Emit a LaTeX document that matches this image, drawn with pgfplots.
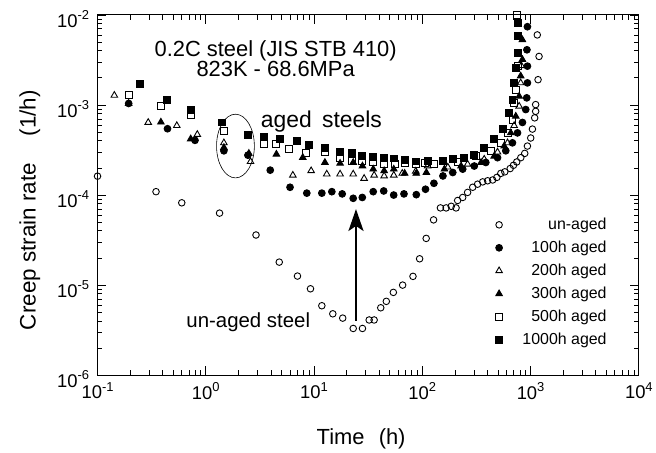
\documentclass[border=0pt]{standalone}
\usepackage{fontspec}
\setmainfont{Liberation Sans}
\usepackage{pgfplots}
\pgfplotsset{compat=1.18}
\usetikzlibrary{arrows.meta}

% 10 with a raised exponent, in the text font
\newcommand{\tp}[1]{10\raisebox{0.4em}{\fontsize{13}{13}\selectfont #1}}

\begin{document}
\begin{tikzpicture}
\begin{axis}[
    scale only axis,
    width=544pt, height=362pt,
    xmode=log, ymode=log,
    xmin=0.1, xmax=1e4, ymin=1e-6, ymax=1e-2,
    axis line style={line width=1.1pt},
    every tick/.style={black, line width=0.8pt},
    major tick length=9pt, minor tick length=5pt,
    tick align=inside,
    xticklabel={\pgfmathtruncatemacro\ex{round(\tick/2.302585093)}\tp{\ex}},
    yticklabel={\pgfmathtruncatemacro\ex{round(\tick/2.302585093)}\tp{\ex}},
    tick label style={font=\fontsize{18.5}{18.5}\selectfont},
    xticklabel style={yshift=-4pt},
    yticklabel style={xshift=-5pt, yshift=-4pt},
    xlabel={Time\hspace{0.65em}(h)},
    ylabel={Creep strain rate\hspace{1.2em}(1/h)},
    xlabel style={font=\fontsize{22}{22}\selectfont, at={(axis description cs:0.487,-0.177)}, anchor=center},
    ylabel style={font=\fontsize{22.5}{22.5}\selectfont, at={(axis description cs:-0.125,0.458)}, anchor=center},
    legend cell align=right,
    legend style={draw=none, fill=none, at={(rel axis cs:0.95,0.447)}, anchor=north east,
        font=\fontsize{16}{18}\selectfont, row sep=6pt,
        /tikz/every odd column/.append style={column sep=18pt}},
    every axis plot/.append style={only marks, black, mark options={line width=0.9pt}},
]
% un-aged
\addplot[mark=o, mark size=3.3pt] coordinates {
(0.1,1.62e-4) (0.347,1.09e-4) (0.6,8.2e-5) (1.34,6.3e-5) (2.91,3.6e-5) (4.77,1.8e-5)
(7.03,1.26e-5) (9.27,9.1e-6) (11.8,5.9e-6) (14.9,4.8e-6) (18.4,4.3e-6) (23.0,3.3e-6)
(28.0,3.3e-6) (32.3,4.1e-6) (35.9,4.1e-6) (41.3,5.6e-6) (46.5,6.6e-6) (54.0,8.3e-6)
(65.8,1.0e-5) (82,1.25e-5) (94.4,1.96e-5) (108.6,3.3e-5) (127,5.3e-5) (147,7.2e-5)
(166,7.2e-5) (185,7.5e-5) (205,7.2e-5) (212,8.7e-5) (236,9.4e-5) (262,1.07e-4)
(292,1.22e-4) (324,1.32e-4) (361,1.40e-4) (401,1.44e-4) (446,1.47e-4) (488,1.57e-4)
(531,1.74e-4) (578,1.81e-4) (648,1.97e-4) (695,2.14e-4) (745,2.33e-4) (812,2.6e-4)
(883,2.9e-4) (935,3.5e-4) (1003,4.3e-4) (1040,5.4e-4) (1091,7.2e-4) (1114,8.5e-4)
(1114,1.01e-3) (1172,1.91e-3) (1197,3.46e-3) (1153,6.0e-3)
};
\addlegendentry{un-aged}
% 100h aged
\addplot[mark=*, mark size=3.4pt] coordinates {
(0.194,1.04e-3) (0.443,5.45e-4) (0.795,4.05e-4) (1.47,3.1e-4) (2.45,2.77e-4) (3.94,1.89e-4)
(6.0,1.22e-4) (8.57,1.05e-4) (11.8,1.05e-4) (14.6,1.09e-4) (18.2,1.03e-4) (23,9.2e-5)
(27.9,9.4e-5) (35.2,1.09e-4) (44,1.11e-4) (54.4,1.0e-4) (67.7,1.03e-4) (88,1.01e-4)
(107,1.16e-4) (128,1.35e-4) (155,1.63e-4) (191,1.78e-4) (236,1.94e-4) (302,2.1e-4)
(386,2.3e-4) (495,2.6e-4) (590,3.1e-4) (680,3.8e-4) (757,4.9e-4) (841,6.4e-4)
(902,8.9e-4) (921,1.2e-3) (935,1.76e-3) (935,2.7e-3) (925,4.1e-3) (935,7.4e-3)
};
\addlegendentry{100h aged}
% 200h aged
\addplot[mark=triangle, mark size=3.8pt] coordinates {
(0.143,1.28e-3) (0.294,6.4e-4) (0.54,5.9e-4) (0.835,4.7e-4) (1.47,3.8e-4) (2.59,2.35e-4)
(6.37,1.66e-4) (9.4,1.86e-4) (13.1,1.71e-4) (17.4,1.71e-4) (23,1.71e-4) (29.0,1.53e-4)
(35.9,1.66e-4) (44.4,1.63e-4) (54.5,1.66e-4) (65.3,1.74e-4) (87,1.84e-4) (112,2.1e-4)
(172,2.04e-4) (262,2.2e-4) (373,2.5e-4) (495,3.0e-4) (612,3.8e-4) (705,5.9e-4)
(784,9.7e-4) (810,1.76e-3) (822,2.73e-3)
};
\addlegendentry{200h aged}
% 300h aged
\addplot[mark=triangle*, mark size=3.8pt] coordinates {
(0.194,1.04e-3) (0.385,6.45e-4) (0.726,4.2e-4) (1.47,3.37e-4) (2.5,2.9e-4) (4.49,2.84e-4)
(7.87,2.61e-4) (12.6,2.3e-4) (17.4,2.25e-4) (23,2.3e-4) (28,2.1e-4) (35.2,1.94e-4)
(44.4,1.86e-4) (54.5,1.94e-4) (68.7,1.74e-4) (87.9,1.74e-4) (109,1.78e-4) (160,1.94e-4)
(228,2.1e-4) (349,2.3e-4) (461,2.7e-4) (570,3.5e-4) (656,4.9e-4) (730,7.5e-4)
(784,1.25e-3) (810,2.1e-3) (840,3.2e-3) (840,5.3e-3)
};
\addlegendentry{300h aged}
% 500h aged
\addplot[mark=square, mark size=3.5pt] coordinates {
(0.194,1.28e-3) (0.385,9.7e-4) (0.726,7.7e-4) (1.47,5.1e-4) (3.43,3.66e-4) (4.49,3.66e-4)
(5.9,3.28e-4) (8.4,2.96e-4) (12.5,3.01e-4) (17.4,2.61e-4) (22.5,2.39e-4) (27.9,2.36e-4)
(35.2,2.33e-4) (44.4,2.24e-4) (55.6,2.2e-4) (68.7,2.3e-4) (87.9,2.24e-4) (105,2.3e-4)
(129,2.2e-4) (212,2.32e-4) (313,2.7e-4) (429,3.1e-4) (531,3.8e-4) (612,4.9e-4)
(680,6.9e-4) (705,1.05e-3) (730,1.48e-3) (757,2.7e-3) (742,1.0e-2)
};
\addlegendentry{500h aged}
% 1000h aged
\addplot[mark=square*, mark size=3.5pt] coordinates {
(0.247,1.71e-3) (0.434,1.15e-3) (0.726,8.9e-4) (1.42,6.4e-4) (2.44,4.7e-4) (3.43,4.46e-4)
(4.88,4.24e-4) (6.93,3.98e-4) (9.0,3.56e-4) (12.5,3.36e-4) (17.4,3.01e-4) (22.5,2.91e-4)
(27.9,2.72e-4) (35.2,2.68e-4) (44.4,2.61e-4) (54.5,2.55e-4) (68.7,2.46e-4) (87.9,2.36e-4)
(112,2.37e-4) (155,2.4e-4) (191,2.5e-4) (244,2.6e-4) (302,2.8e-4) (373,3.35e-4)
(461,4.2e-4) (551,5.4e-4) (633,8.2e-4) (680,1.15e-3) (705,1.76e-3) (730,2.6e-3)
(757,3.8e-3) (757,5.8e-3) (757,8.1e-3)
};
\addlegendentry{1000h aged}

\node[font=\fontsize{22}{20}\selectfont, align=center] at (axis cs:4.42,3.25e-3)
    {0.2C steel (JIS STB 410)\\823K - 68.6MPa};
\node[font=\fontsize{23}{23}\selectfont] at (axis cs:11.7,6.6e-4) {aged\hspace{0.45em}steels};
\node[font=\fontsize{20.5}{20.5}\selectfont] at (axis cs:2.47,3.86e-6) {un-aged steel};
\draw[line width=0.6pt] (axis cs:1.88,3.5e-4) ellipse [x radius=19pt, y radius=32pt];
\draw[line width=3pt, -{Stealth[length=22pt, width=15pt, inset=5pt]}]
    (axis cs:24.4,4.0e-6) -- (axis cs:24.4,7.0e-5);
\end{axis}
\path (-98pt,-76pt) rectangle (558pt,377pt);
\end{tikzpicture}
\end{document}
